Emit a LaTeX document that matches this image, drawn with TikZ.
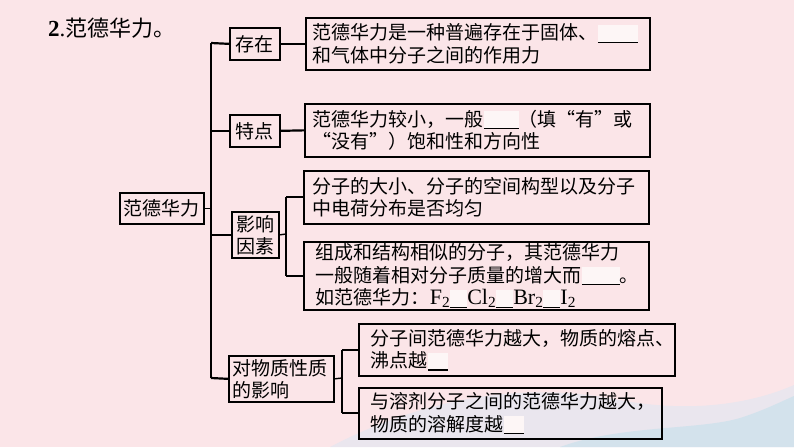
\documentclass[tikz,border=0pt]{standalone}
\usepackage{fontspec}
\setmainfont{Liberation Serif}
\newfontfamily\cjk{Noto Sans CJK SC}
\definecolor{bgpink}{HTML}{FBE5E8}
\definecolor{wave}{HTML}{D3E2EC}
\definecolor{wavelight}{HTML}{EAE6EE}
\definecolor{blankfill}{HTML}{FDF6F6}
\newcommand\blk[1]{\rlap{{\color{blankfill}\rule[-3pt]{#1}{18pt}}}\rule[-3pt]{#1}{1.3pt}}
\newcommand\lat[1]{{\rmfamily\fontsize{22}{22.5}\selectfont #1}}
\begin{document}
\begin{tikzpicture}[x=1pt,y=-1pt,
  txt/.style={font=\cjk\fontsize{19}{22.5}\selectfont},
  rbox/.style={txt, draw, line width=1.7pt, anchor=north west, align=left, inner ysep=0pt},
  lbox/.style={txt, draw, line width=1.7pt, anchor=north west, align=center, inner sep=0pt},
  conn/.style={line width=2.2pt},
  thin conn/.style={line width=1.4pt}]
% background
\fill[bgpink] (0,0) rectangle (794,447);
\fill[wavelight] (330,447) .. controls (420,400) and (520,380) .. (620,400)
  .. controls (700,415) and (760,400) .. (794,385) -- (794,447) -- cycle;
\fill[wave] (560,447) .. controls (620,425) and (700,430) .. (740,418)
  .. controls (765,410) and (780,402) .. (794,396) -- (794,447) -- cycle;
\useasboundingbox (0,0) rectangle (794,447);

% title
\node[anchor=west, inner sep=0pt, font=\fontsize{23}{24}\selectfont] (title) at (48,28)
  {\textbf{2}.{\cjk\fontsize{22}{24}\selectfont 范德华力。}};

% left column
\node[lbox, minimum width=84pt, minimum height=31pt] (main) at (119,192) {范德华力};
\node[lbox, minimum width=50pt, minimum height=32pt] (exist) at (229,27) {存在};
\node[lbox, minimum width=50pt, minimum height=32pt] (feat) at (229,114) {特点};
\node[lbox, minimum width=47pt, minimum height=46pt, font=\cjk\fontsize{19}{22}\selectfont] (infl) at (231,211) {影响\\因素};
\node[lbox, minimum width=105pt, minimum height=46pt, align=left, text width=97pt, inner xsep=4pt, font=\cjk\fontsize{19}{22}\selectfont] (prop) at (228,355) {对物质性质\\的影响};

% right boxes
\node[rbox, text width=330pt, inner xsep=7pt, minimum height=52pt] (b1) at (305,17)
  {范德华力是一种普遍存在于固体、\blk{40pt}\\和气体中分子之间的作用力};
\node[rbox, text width=329pt, inner xsep=8pt, minimum height=53pt] (b2) at (304,103)
  {范德华力较小，一般\blk{35pt}（填“有”或\\“没有”）饱和性和方向性};
\node[rbox, text width=327pt, inner xsep=9pt, minimum height=53pt] (b3) at (303,170)
  {分子的大小、分子的空间构型以及分子\\中电荷分布是否均匀};
\node[rbox, text width=321pt, inner xsep=12pt, minimum height=68pt] (b4) at (303,241)
  {组成和结构相似的分子，其范德华力\\一般随着相对分子质量的增大而\blk{38pt}。\\如范德华力：\lat{F\textsubscript{2}}\blk{17pt}\lat{Cl\textsubscript{2}}\blk{17pt}\lat{Br\textsubscript{2}}\blk{17pt}\lat{I\textsubscript{2}}};
\node[rbox, text width=292pt, inner xsep=12pt, minimum height=52pt] (b5) at (358,323)
  {分子间范德华力越大，物质的熔点、\\沸点越\blk{20pt}};
\node[rbox, text width=279pt, inner xsep=12pt, minimum height=51pt] (b6) at (358,387)
  {与溶剂分子之间的范德华力越大，\\物质的溶解度越\blk{20pt}};

% trunk
\coordinate (tTop) at (211,43);
\coordinate (tBot) at (211,378);
\draw[conn] (tTop) -- (tBot);
\draw[thin conn] (main.east) -- (main.east -| tTop);
\draw[conn] (tTop) -- (exist.west);
\draw[conn] (feat.west -| tTop) -- (feat.west);
\draw[conn] (infl.west -| tTop) -- (infl.west);
\draw[conn] (tBot) -- (prop.west);

% first level to boxes
\draw[conn] (exist.east) -- (b1.west);
\draw[conn] (feat.east) -- (b2.west);

% influence sub-branch
\coordinate (iJ) at (286,234);
\draw[thin conn] (infl.east) -- (iJ);
\draw[conn] (b3.west -| iJ) -- (b4.west -| iJ);
\draw[conn] (b3.west -| iJ) -- (b3.west);
\draw[conn] (b4.west -| iJ) -- (b4.west);

% property sub-branch
\coordinate (pJ) at (342,378);
\draw[thin conn] (prop.east) -- (pJ);
\draw[conn] (b5.west -| pJ) -- (b6.west -| pJ);
\draw[conn] (b5.west -| pJ) -- (b5.west);
\draw[conn] (b6.west -| pJ) -- (b6.west);
\end{tikzpicture}
\end{document}
